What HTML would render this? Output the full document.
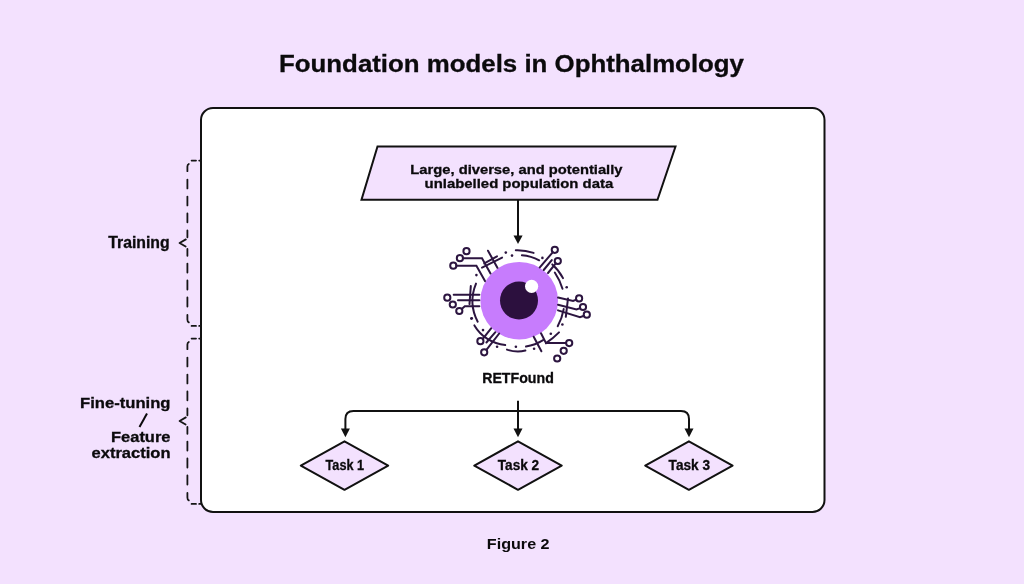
<!DOCTYPE html>
<html><head><meta charset="utf-8">
<style>
html,body{margin:0;padding:0;width:1024px;height:584px;overflow:hidden;background:#F3E1FE;}
svg{display:block;position:absolute;left:0;top:0;will-change:transform;}
text{font-family:"Liberation Sans",sans-serif;font-weight:bold;fill:#0B0A0C;stroke:#0B0A0C;stroke-width:0.3px;}
</style></head>
<body>
<svg width="1024" height="584" viewBox="0 0 1024 584">
  <!-- title -->
  <text x="279" y="72.4" font-size="24.2" textLength="465" lengthAdjust="spacingAndGlyphs">Foundation models in Ophthalmology</text>

  <!-- main box -->
  <rect x="201" y="108" width="623.5" height="404" rx="12" ry="12" fill="#FFFFFF" stroke="#111111" stroke-width="2"/>

  <!-- brackets -->
  <g fill="none" stroke="#151515" stroke-width="1.8" stroke-linecap="round" stroke-linejoin="round">
    <path d="M191.6 160.6 H196 M199.2 160.6 H201 M188.8 164 Q187.4 164.6 187.4 166.6 V171.2 M187.4 179.6 V188.4 M187.4 196.6 V205.4 M187.4 213.5 V222.3 M187.4 230.5 V237.3 M187.4 249 V255.8 M187.4 263.6 V272.6 M187.4 280.5 V289.5 M187.4 297.5 V306.5 M187.4 315 V319.4 Q187.4 321.8 188.8 322.4 M185.8 239.4 L179.6 243 L185.6 246.6 M191.6 325.9 H196 M199.2 325.9 H201"/>
    <path transform="translate(0,178)" d="M191.6 160.6 H196 M199.2 160.6 H201 M188.8 164 Q187.4 164.6 187.4 166.6 V171.2 M187.4 179.6 V188.4 M187.4 196.6 V205.4 M187.4 213.5 V222.3 M187.4 230.5 V237.3 M187.4 249 V255.8 M187.4 263.6 V272.6 M187.4 280.5 V289.5 M187.4 297.5 V306.5 M187.4 315 V319.4 Q187.4 321.8 188.8 322.4 M185.8 239.4 L179.6 243 L185.6 246.6 M191.6 325.9 H196 M199.2 325.9 H201"/>
  </g>

  <!-- left labels -->
  <text x="108.2" y="248.1" font-size="15.6" textLength="61.5" lengthAdjust="spacingAndGlyphs">Training</text>
  <text x="80" y="407.5" font-size="15.2" textLength="90.5" lengthAdjust="spacingAndGlyphs">Fine-tuning</text>
  <line x1="147" y1="413.5" x2="139.5" y2="427" stroke="#0B0A0C" stroke-width="2"/>
  <text x="111" y="442.1" font-size="15.4" textLength="59.5" lengthAdjust="spacingAndGlyphs">Feature</text>
  <text x="91.5" y="457.5" font-size="15.4" textLength="79" lengthAdjust="spacingAndGlyphs">extraction</text>

  <!-- parallelogram -->
  <polygon points="377.5,146.5 675.5,146.5 657.5,199.8 361.5,199.8" fill="#F3E1FE" stroke="#111111" stroke-width="2" stroke-linejoin="miter"/>
  <text x="410.3" y="173.8" font-size="13.4" textLength="212.2" lengthAdjust="spacingAndGlyphs">Large, diverse, and potentially</text>
  <text x="424.6" y="187.8" font-size="13.4" textLength="188.6" lengthAdjust="spacingAndGlyphs">unlabelled population data</text>

  <!-- arrow down -->
  <line x1="518" y1="200" x2="518" y2="237" stroke="#111" stroke-width="2"/>
  <polygon points="513.5,235.5 522.6,235.5 518,244" fill="#111"/>

  <!-- eye -->
  <g id="eye">
<circle cx="519.2" cy="300.7" r="38.8" fill="#C77CFD"/>
<circle cx="519" cy="300.5" r="19" fill="#2C103E"/>
<circle cx="531.6" cy="286.3" r="6.6" fill="#FFFFFF"/>
<g fill="none" stroke="#2C1540" stroke-width="2" stroke-linecap="round" stroke-linejoin="miter">
  <path d="M462.9 258.2 H482 L490.5 273.4"/>
  <path d="M456.3 265.7 H476.4 L485 281.1"/>
  <path d="M488 250.7 L497.4 267.8"/>
  <path d="M484.3 263.4 L497 256.3"/>
  <path d="M482 267.6 L502.1 257.6"/>
  <path d="M515.8 250.3 A50.6 50.6 0 0 1 533.6 252.9"/>
  <path d="M521.9 255.3 A43.9 43.9 0 0 1 539.2 260.3"/>
  <path d="M552.7 252.3 L539.8 267.4"/>
  <path d="M551.8 260.1 L543.7 270"/>
  <path d="M555.8 263.4 L548 273"/>
  <path d="M552.3 264.4 A45.7 45.7 0 0 1 563 278.1"/>
  <path d="M554.8 272.5 A59.2 59.2 0 0 1 562.5 288.8"/>
  <path d="M558 297.6 L573.1 301 L576.3 299.6"/>
  <path d="M558 304.8 L576.5 309.5 L580.2 308.1"/>
  <path d="M558 310.4 L580 317.2 L584 315.8"/>
  <path d="M568 298.4 L565.8 316.8"/>
  <path d="M563.7 309.1 A55.6 55.6 0 0 1 557.7 326.2"/>
  <path d="M559 332.4 A77.1 77.1 0 0 1 546 343.1"/>
  <path d="M546 343.1 H566"/>
  <path d="M541 333.3 L546 343.1"/>
  <path d="M526 346.5 A45.2 45.2 0 0 0 543.1 340.1"/>
  <path d="M533.7 336.7 L541.4 351.3"/>
  <path d="M507 349.6 A33.6 33.6 0 0 0 525.4 350.6"/>
  <path d="M483 338.7 L491.1 328.4"/>
  <path d="M486.4 342.5 L495.4 332.2"/>
  <path d="M486.6 349.6 L499.2 333.5"/>
  <path d="M474.4 325.4 A40.7 40.7 0 0 0 505.2 345.1"/>
  <path d="M453.7 294.7 H479.4"/>
  <path d="M458 300.3 H479.4"/>
  <path d="M462 308.7 L464.8 306.3 H479.4"/>
  <path d="M470.8 286.1 L469.5 304.1"/>
  <path d="M476 283.6 A45.2 45.2 0 0 0 477.7 321.7"/>
  <circle cx="466.5" cy="251.2" r="3.1"/>
  <circle cx="459.9" cy="258.2" r="3.1"/>
  <circle cx="453.3" cy="265.7" r="3.1"/>
  <circle cx="554.8" cy="249.8" r="3.1"/>
  <circle cx="557.8" cy="261.0" r="3.1"/>
  <circle cx="579.1" cy="298.4" r="3.1"/>
  <circle cx="583.0" cy="307.0" r="3.1"/>
  <circle cx="586.8" cy="314.7" r="3.1"/>
  <circle cx="569.2" cy="343.1" r="3.1"/>
  <circle cx="563.7" cy="350.8" r="3.1"/>
  <circle cx="557.2" cy="358.5" r="3.1"/>
  <circle cx="480.4" cy="341.2" r="3.1"/>
  <circle cx="484.2" cy="352.3" r="3.1"/>
  <circle cx="447.3" cy="297.7" r="3.1"/>
  <circle cx="452.8" cy="304.5" r="3.1"/>
  <circle cx="459.3" cy="311.0" r="3.1"/>
</g>
<g fill="#2C1540">
  <circle cx="476.4" cy="275.1" r="1.3"/>
  <circle cx="505.8" cy="252.6" r="1.3"/>
  <circle cx="512" cy="255.6" r="1.3"/>
  <circle cx="542.4" cy="257.9" r="1.3"/>
  <circle cx="566.7" cy="287.3" r="1.3"/>
  <circle cx="562.4" cy="324.5" r="1.3"/>
  <circle cx="550.8" cy="333.7" r="1.3"/>
  <circle cx="534.1" cy="348.7" r="1.3"/>
  <circle cx="471.4" cy="318.6" r="1.3"/>
  <circle cx="483" cy="330.1" r="1.3"/>
  <circle cx="497.1" cy="346.8" r="1.3"/>
  <circle cx="515.9" cy="346.7" r="1.3"/>
  <circle cx="471.7" cy="318.2" r="1.3"/>
</g>

</g>

  <text x="482.2" y="383.3" font-size="14" textLength="71.6" lengthAdjust="spacingAndGlyphs">RETFound</text>

  <!-- connectors -->
  <g fill="none" stroke="#111" stroke-width="2">
    <line x1="518" y1="400.8" x2="518" y2="430"/>
    <path d="M345.4 430 V419 Q345.4 411 353.4 411 H681 Q689 411 689 419 V430"/>
  </g>
  <g fill="#111">
    <polygon points="340.9,428.6 349.9,428.6 345.4,437.2"/>
    <polygon points="513.5,428.6 522.5,428.6 518,437.2"/>
    <polygon points="684.5,428.6 693.5,428.6 689,437.2"/>
  </g>

  <!-- diamonds -->
  <g fill="#F3E1FE" stroke="#111" stroke-width="2" stroke-linejoin="round">
    <polygon points="300.8,465.6 344.5,441.3 388.2,465.6 344.5,489.8"/>
    <polygon points="474.3,465.6 518,441.3 561.7,465.6 518,489.8"/>
    <polygon points="645.2,465.6 688.9,441.3 732.6,465.6 688.9,489.8"/>
  </g>
  <text x="325.6" y="469.5" font-size="14.1" textLength="38.4" lengthAdjust="spacingAndGlyphs">Task 1</text>
  <text x="497.8" y="469.5" font-size="14.1" textLength="41.4" lengthAdjust="spacingAndGlyphs">Task 2</text>
  <text x="668.6" y="469.5" font-size="14.1" textLength="41.4" lengthAdjust="spacingAndGlyphs">Task 3</text>

  <!-- caption -->
  <text x="486.8" y="548.8" font-size="14.8" textLength="62.8" lengthAdjust="spacingAndGlyphs" style="font-weight:bold;stroke-width:0">Figure 2</text>
</svg>
</body></html>
